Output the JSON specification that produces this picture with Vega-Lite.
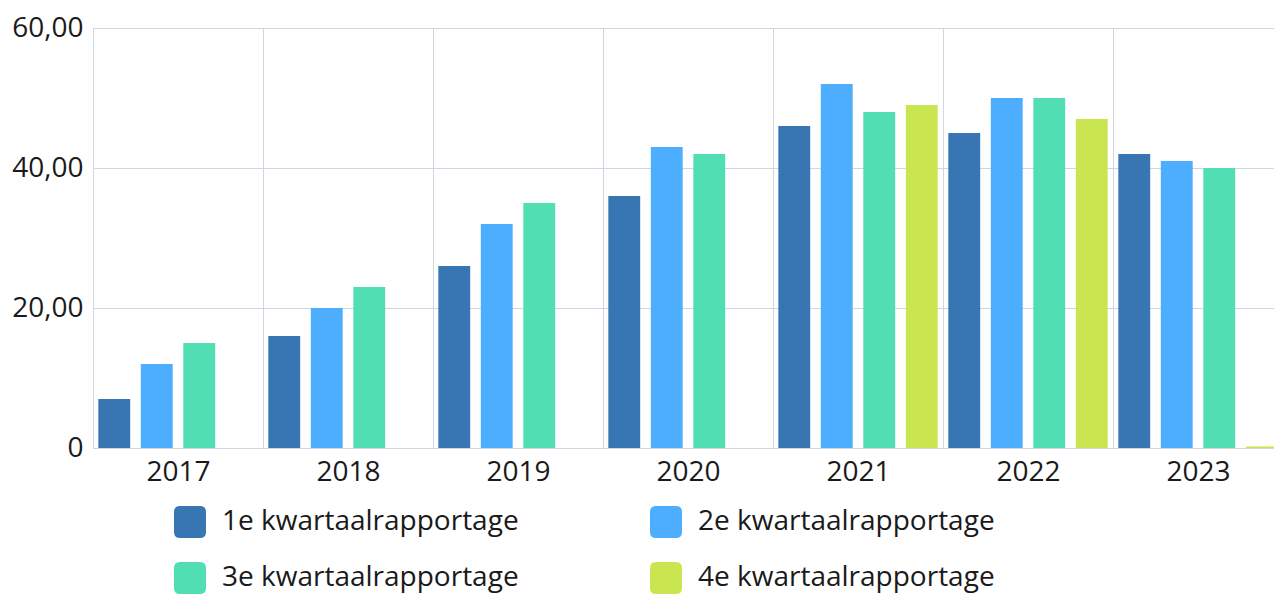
{
  "$schema": "https://vega.github.io/schema/vega-lite/v6.json",
  "autosize": {"type": "none"},
  "width": 1190,
  "height": 420,
  "padding": {"left": 93, "top": 28, "right": 0, "bottom": 147},
  "background": "white",
  "config": {"view": {"stroke": null}, "font": "Open Sans"},
  "data": {
    "values": [
      {"jaar": "2017", "reeks": "1e kwartaalrapportage", "waarde": 7},
      {"jaar": "2017", "reeks": "2e kwartaalrapportage", "waarde": 12},
      {"jaar": "2017", "reeks": "3e kwartaalrapportage", "waarde": 15},
      {"jaar": "2018", "reeks": "1e kwartaalrapportage", "waarde": 16},
      {"jaar": "2018", "reeks": "2e kwartaalrapportage", "waarde": 20},
      {"jaar": "2018", "reeks": "3e kwartaalrapportage", "waarde": 23},
      {"jaar": "2019", "reeks": "1e kwartaalrapportage", "waarde": 26},
      {"jaar": "2019", "reeks": "2e kwartaalrapportage", "waarde": 32},
      {"jaar": "2019", "reeks": "3e kwartaalrapportage", "waarde": 35},
      {"jaar": "2020", "reeks": "1e kwartaalrapportage", "waarde": 36},
      {"jaar": "2020", "reeks": "2e kwartaalrapportage", "waarde": 43},
      {"jaar": "2020", "reeks": "3e kwartaalrapportage", "waarde": 42},
      {"jaar": "2021", "reeks": "1e kwartaalrapportage", "waarde": 46},
      {"jaar": "2021", "reeks": "2e kwartaalrapportage", "waarde": 52},
      {"jaar": "2021", "reeks": "3e kwartaalrapportage", "waarde": 48},
      {"jaar": "2021", "reeks": "4e kwartaalrapportage", "waarde": 49},
      {"jaar": "2022", "reeks": "1e kwartaalrapportage", "waarde": 45},
      {"jaar": "2022", "reeks": "2e kwartaalrapportage", "waarde": 50},
      {"jaar": "2022", "reeks": "3e kwartaalrapportage", "waarde": 50},
      {"jaar": "2022", "reeks": "4e kwartaalrapportage", "waarde": 47},
      {"jaar": "2023", "reeks": "1e kwartaalrapportage", "waarde": 42},
      {"jaar": "2023", "reeks": "2e kwartaalrapportage", "waarde": 41},
      {"jaar": "2023", "reeks": "3e kwartaalrapportage", "waarde": 40},
      {"jaar": "2023", "reeks": "4e kwartaalrapportage", "waarde": 0.2}
    ]
  },
  "mark": {"type": "bar"},
  "encoding": {
    "x": {
      "field": "jaar",
      "type": "nominal",
      "scale": {"paddingInner": 0, "paddingOuter": 0},
      "axis": {
        "title": null,
        "labelAngle": 0,
        "ticks": false,
        "tickBand": "extent",
        "grid": true,
        "gridColor": "#cfd6e2",
        "domainColor": "#cfd6e2",
        "labelFontSize": 28,
        "labelColor": "#1a1a1a",
        "labelPadding": 10
      }
    },
    "xOffset": {
      "field": "reeks",
      "scale": {"paddingInner": 0.25, "paddingOuter": 0.125}
    },
    "y": {
      "field": "waarde",
      "type": "quantitative",
      "scale": {"domain": [0, 60], "nice": false},
      "axis": {
        "title": null,
        "values": [0, 20, 40, 60],
        "ticks": false,
        "grid": true,
        "gridColor": "#cfd6e2",
        "domainColor": "#cfd6e2",
        "labelFontSize": 28,
        "labelColor": "#1a1a1a",
        "labelPadding": 10,
        "labelExpr": "datum.value == 0 ? '0' : replace(format(datum.value, '.2f'), '.', ',')"
      }
    },
    "color": {
      "field": "reeks",
      "type": "nominal",
      "scale": {
        "domain": ["1e kwartaalrapportage", "2e kwartaalrapportage", "3e kwartaalrapportage", "4e kwartaalrapportage"],
        "range": ["#3776b3", "#4dadff", "#52deb3", "#c9e650"]
      },
      "legend": {
        "title": null,
        "orient": "none",
        "legendX": 81,
        "legendY": 478,
        "direction": "horizontal",
        "columns": 2,
        "padding": 0,
        "columnPadding": 131,
        "rowPadding": 24,
        "symbolType": "M-0.62,-1H0.62Q1,-1 1,-0.62V0.62Q1,1 0.62,1H-0.62Q-1,1 -1,0.62V-0.62Q-1,-1 -0.62,-1Z",
        "symbolSize": 1024,
        "symbolStrokeWidth": 0,
        "symbolOpacity": 1,
        "labelFontSize": 28,
        "labelColor": "#1a1a1a",
        "labelOffset": 16,
        "labelLimit": 400
      }
    }
  }
}
